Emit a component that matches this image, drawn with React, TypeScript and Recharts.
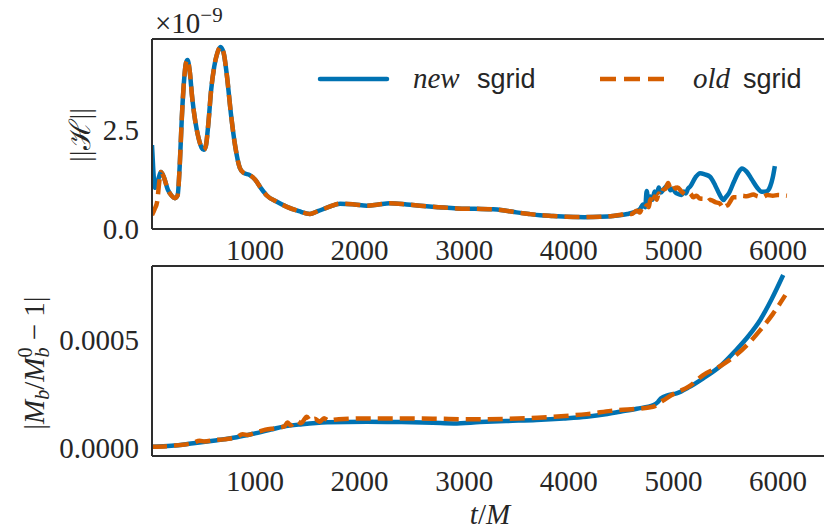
import { LineChart, Line, XAxis, YAxis, ReferenceLine } from 'recharts';

// Hamiltonian constraint norm, in units of 1e-9, as [t/M, value]
const hamNew: [number, number][] = [
  [15, 2.12], [25, 1.6], [35, 1.2], [45, 1.04], [60, 1.1], [80, 1.3], [100, 1.44],
  [130, 1.3], [165, 1.0], [200, 0.85], [235, 0.78], [260, 0.85], [280, 1.6], [300, 2.8],
  [320, 3.7], [340, 4.2], [355, 4.27], [375, 4.0], [400, 3.3], [430, 2.7], [460, 2.3],
  [490, 2.05], [510, 2.0], [530, 2.1], [555, 2.7], [580, 3.5], [610, 4.1], [640, 4.45],
  [670, 4.6], [700, 4.45], [730, 3.9], [770, 2.9], [810, 2.1], [855, 1.54], [890, 1.42],
  [950, 1.36], [1000, 1.25], [1060, 1.02], [1115, 0.84], [1200, 0.7], [1305, 0.56],
  [1420, 0.45], [1525, 0.38], [1600, 0.45], [1700, 0.55], [1813, 0.64], [1950, 0.62],
  [2070, 0.59], [2180, 0.62], [2290, 0.65], [2450, 0.62], [2610, 0.58], [2760, 0.55],
  [2930, 0.52], [3100, 0.51], [3278, 0.5], [3400, 0.46], [3500, 0.42], [3620, 0.38],
  [3725, 0.35], [3850, 0.33], [3980, 0.31], [4150, 0.3], [4300, 0.31], [4420, 0.33],
  [4560, 0.38], [4620, 0.42], [4680, 0.5], [4710, 0.62], [4730, 0.55], [4745, 0.96],
  [4760, 0.7], [4780, 0.82], [4800, 0.74], [4820, 0.95], [4840, 0.88], [4860, 1.05],
  [4880, 0.92], [4900, 0.98], [4925, 1.06], [4950, 1.12], [4970, 0.98], [4990, 1.02],
  [5020, 0.92], [5050, 0.88], [5080, 0.86], [5100, 0.95], [5120, 0.9], [5140, 1.02],
  [5160, 1.07], [5210, 1.3], [5255, 1.41], [5300, 1.38], [5350, 1.32], [5400, 1.1],
  [5440, 0.88], [5480, 0.73], [5500, 0.8], [5530, 0.9], [5580, 1.2], [5620, 1.42],
  [5655, 1.53], [5700, 1.45], [5750, 1.25], [5800, 1.05], [5845, 0.94], [5890, 0.95],
  [5925, 1.07], [5950, 1.3], [5970, 1.59],
];

const hamOld: [number, number][] = [
  [15, 0.35], [40, 0.5], [65, 0.7], [85, 1.2], [100, 1.44],
  [130, 1.3], [165, 1.0], [200, 0.85], [235, 0.78], [260, 0.85], [280, 1.6], [300, 2.8],
  [320, 3.7], [340, 4.2], [355, 4.27], [375, 4.0], [400, 3.3], [430, 2.7], [460, 2.3],
  [490, 2.05], [510, 2.0], [530, 2.1], [555, 2.7], [580, 3.5], [610, 4.1], [640, 4.45],
  [670, 4.6], [700, 4.45], [730, 3.9], [770, 2.9], [810, 2.1], [855, 1.54], [890, 1.42],
  [950, 1.36], [1000, 1.25], [1060, 1.02], [1115, 0.84], [1200, 0.7], [1305, 0.56],
  [1420, 0.45], [1525, 0.38], [1600, 0.45], [1700, 0.55], [1813, 0.64], [1950, 0.62],
  [2070, 0.59], [2180, 0.62], [2290, 0.65], [2450, 0.62], [2610, 0.58], [2760, 0.55],
  [2930, 0.52], [3100, 0.51], [3278, 0.5], [3400, 0.46], [3500, 0.42], [3620, 0.38],
  [3725, 0.35], [3850, 0.33], [3980, 0.31], [4150, 0.3], [4300, 0.31], [4420, 0.33],
  [4500, 0.36], [4560, 0.4], [4600, 0.38], [4650, 0.46], [4680, 0.42], [4700, 0.52],
  [4720, 0.48], [4745, 0.6], [4765, 0.55], [4780, 0.75], [4800, 0.64], [4820, 0.82],
  [4840, 0.74], [4860, 0.9], [4880, 0.84], [4900, 0.98], [4925, 1.02], [4950, 1.16],
  [4970, 1.04], [4995, 1.13], [5020, 1.02], [5040, 1.05], [5080, 0.94], [5130, 0.86],
  [5160, 0.9], [5190, 0.8], [5220, 0.84], [5255, 0.77], [5300, 0.76], [5330, 0.7],
  [5350, 0.74], [5400, 0.68], [5445, 0.64], [5480, 0.52], [5500, 0.58], [5520, 0.6],
  [5545, 0.7], [5570, 0.8], [5610, 0.8], [5650, 0.84], [5700, 0.83], [5765, 0.87],
  [5800, 0.83], [5850, 0.81], [5900, 0.86], [5950, 0.84], [6000, 0.86], [6085, 0.84],
];

// baryon mass drift |M_b/M_b^0 - 1|
const massNew: [number, number][] = [
  [15, 0.06e-4], [200, 0.1e-4], [410, 0.22e-4], [600, 0.34e-4], [825, 0.5e-4],
  [1000, 0.68e-4], [1150, 0.85e-4], [1270, 0.99e-4], [1450, 1.1e-4], [1690, 1.19e-4],
  [2070, 1.22e-4], [2400, 1.2e-4], [2700, 1.17e-4], [2900, 1.14e-4], [3150, 1.2e-4],
  [3400, 1.25e-4], [3690, 1.3e-4], [3950, 1.37e-4], [4170, 1.45e-4], [4350, 1.56e-4],
  [4490, 1.68e-4], [4650, 1.82e-4], [4810, 1.99e-4], [4850, 2.12e-4], [4880, 2.3e-4],
  [4950, 2.45e-4], [5030, 2.53e-4], [5150, 2.82e-4], [5285, 3.23e-4], [5450, 3.8e-4],
  [5600, 4.54e-4], [5720, 5.2e-4], [5830, 5.93e-4], [5940, 6.9e-4], [6050, 8.01e-4],
];

const massOld: [number, number][] = [
  [15, 0.06e-4], [200, 0.1e-4], [410, 0.24e-4], [470, 0.34e-4], [520, 0.3e-4],
  [600, 0.36e-4], [700, 0.4e-4], [770, 0.44e-4], [825, 0.5e-4], [880, 0.64e-4],
  [930, 0.6e-4], [1000, 0.7e-4], [1100, 0.85e-4], [1200, 0.92e-4], [1280, 1.0e-4],
  [1310, 1.18e-4], [1340, 1.05e-4], [1400, 1.25e-4], [1440, 1.15e-4], [1495, 1.45e-4],
  [1530, 1.25e-4], [1570, 1.35e-4], [1620, 1.22e-4], [1660, 1.38e-4], [1700, 1.28e-4],
  [1800, 1.33e-4], [2070, 1.37e-4], [2400, 1.37e-4], [2700, 1.36e-4], [3060, 1.33e-4],
  [3400, 1.35e-4], [3700, 1.4e-4], [4000, 1.5e-4], [4170, 1.57e-4], [4400, 1.72e-4],
  [4805, 1.91e-4], [4900, 2.2e-4], [5000, 2.5e-4], [5150, 2.85e-4], [5285, 3.38e-4],
  [5450, 3.8e-4], [5600, 4.31e-4], [5720, 4.85e-4], [5830, 5.46e-4], [5950, 6.2e-4],
  [6070, 7.08e-4],
];

const xTicks = [1000, 2000, 3000, 4000, 5000, 6000];
const hamTicks = [0, 2.5];
const massTicks = [0, 0.0005];

const BLUE = '#0072B2';
const ORANGE = '#D55E00';
const SPINE = '#2e2e2e';
const TEXT = '#262626';
const SERIF = '"Liberation Serif", "DejaVu Serif", serif';
const SANS = '"Liberation Sans", Arial, sans-serif';

const toRows = (pts: [number, number][]) => pts.map(([t, v]) => ({ t, v }));

const tickStyle = { fill: TEXT, fontSize: 29, fontFamily: SERIF };
const axisLine = { stroke: SPINE, strokeWidth: 2 };

export default function App() {
  return (
    <div
      style={{
        position: 'absolute',
        left: 0,
        top: 0,
        width: 824,
        height: 531,
        background: '#fff',
        overflow: 'hidden',
      }}
    >
      <div style={{ position: 'absolute', left: 0, top: 0 }}>
        <LineChart width={824} height={265} margin={{ top: 39, right: 0, bottom: 0, left: 0 }}>
          <XAxis
            type="number"
            dataKey="t"
            domain={[15, 6440]}
            ticks={xTicks}
            allowDataOverflow
            height={36}
            tickLine={false}
            tickSize={0}
            tickMargin={10}
            axisLine={axisLine}
            tick={tickStyle}
          />
          <YAxis
            type="number"
            dataKey="v"
            domain={[0, 4.8]}
            ticks={hamTicks}
            allowDataOverflow
            width={152}
            tickLine={false}
            tickSize={0}
            tickMargin={13}
            axisLine={axisLine}
            tick={tickStyle}
            tickFormatter={(v: number) => v.toFixed(1)}
          />
          <ReferenceLine y={4.8} stroke={SPINE} strokeWidth={2} />
          <Line
            data={toRows(hamNew)}
            dataKey="v"
            type="monotone"
            stroke={BLUE}
            strokeWidth={4.5}
            dot={false}
            isAnimationActive={false}
          />
          <Line
            data={toRows(hamOld)}
            dataKey="v"
            type="monotone"
            stroke={ORANGE}
            strokeWidth={4.5}
            strokeDasharray="15 7"
            dot={false}
            isAnimationActive={false}
          />
        </LineChart>
      </div>

      <div style={{ position: 'absolute', left: 0, top: 256 }}>
        <LineChart width={824} height={240} margin={{ top: 10, right: 0, bottom: 0, left: 0 }}>
          <XAxis
            type="number"
            dataKey="t"
            domain={[15, 6440]}
            ticks={xTicks}
            allowDataOverflow
            height={40}
            tickLine={false}
            tickSize={0}
            tickMargin={14}
            axisLine={axisLine}
            tick={tickStyle}
          />
          <YAxis
            type="number"
            dataKey="v"
            domain={[-0.000037, 0.000843]}
            ticks={massTicks}
            allowDataOverflow
            width={152}
            tickLine={false}
            tickSize={0}
            tickMargin={13}
            axisLine={axisLine}
            tick={tickStyle}
            tickFormatter={(v: number) => v.toFixed(4)}
          />
          <ReferenceLine y={0.000843} stroke={SPINE} strokeWidth={2} />
          <Line
            data={toRows(massNew)}
            dataKey="v"
            type="monotone"
            stroke={BLUE}
            strokeWidth={4.5}
            dot={false}
            isAnimationActive={false}
          />
          <Line
            data={toRows(massOld)}
            dataKey="v"
            type="monotone"
            stroke={ORANGE}
            strokeWidth={4.5}
            strokeDasharray="15 7"
            dot={false}
            isAnimationActive={false}
          />
        </LineChart>
      </div>

      {/* labels, offset exponent and legend */}
      <svg
        width={824}
        height={531}
        style={{ position: 'absolute', left: 0, top: 0, pointerEvents: 'none' }}
      >
        <text x={155} y={33} fontFamily={SERIF} fontSize={29} fill={TEXT}>
          ×10
          <tspan fontSize={21} dy={-11}>
            −9
          </tspan>
        </text>

        <line x1={320} y1={79} x2={387} y2={79} stroke={BLUE} strokeWidth={4.5} strokeLinecap="round" />
        <text x={413} y={88} fontSize={29} fill={TEXT}>
          <tspan fontFamily={SERIF} fontStyle="italic">new</tspan>
          <tspan x={477} fontFamily={SANS} fontSize={27}>sgrid</tspan>
        </text>
        <line x1={600} y1={79} x2={665} y2={79} stroke={ORANGE} strokeWidth={4.5} strokeDasharray="16 8" />
        <text x={693} y={88} fontSize={29} fill={TEXT}>
          <tspan fontFamily={SERIF} fontStyle="italic">old</tspan>
          <tspan x={743} fontFamily={SANS} fontSize={27}>sgrid</tspan>
        </text>

        <text
          transform="translate(90,135) rotate(-90)"
          textAnchor="middle"
          fontFamily={SERIF}
          fontSize={29}
          fill={TEXT}
        >
          ||ℋ||
        </text>

        <text
          transform="translate(44,363) rotate(-90)"
          textAnchor="middle"
          fontFamily={SERIF}
          fontSize={29}
          fill={TEXT}
        >
          <tspan>|</tspan>
          <tspan fontStyle="italic">M</tspan>
          <tspan fontSize={20} fontStyle="italic" dy={5}>b</tspan>
          <tspan dy={-5}>/</tspan>
          <tspan fontStyle="italic">M</tspan>
          <tspan fontSize={20} dy={-12}>0</tspan>
          <tspan fontSize={20} fontStyle="italic" dx={-10} dy={17}>b</tspan>
          <tspan dy={-5}> − 1|</tspan>
        </text>

        <text x={490} y={524} textAnchor="middle" fontFamily={SERIF} fontSize={29} fill={TEXT}>
          <tspan fontStyle="italic">t</tspan>
          <tspan>/</tspan>
          <tspan fontStyle="italic">M</tspan>
        </text>
      </svg>
    </div>
  );
}
